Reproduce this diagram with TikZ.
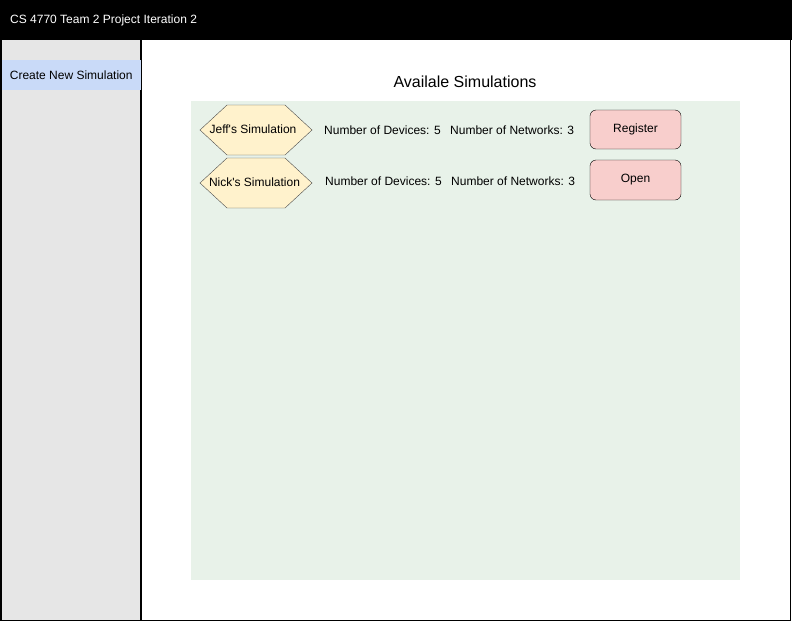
\documentclass[tikz,border=0pt]{standalone}
\usepackage{fontspec}
\setmainfont{Liberation Sans}
\usepackage{xcolor}
\usetikzlibrary{positioning}
\definecolor{sidegray}{HTML}{E6E6E6}
\definecolor{menublue}{HTML}{C9DAF8}
\definecolor{panelgreen}{HTML}{E8F2E9}
\definecolor{hexyellow}{HTML}{FFF2CC}
\definecolor{btnred}{HTML}{F8CECC}

\begin{document}
\begin{tikzpicture}[x=1pt,y=-1pt,
  every node/.style={font=\fontsize{12pt}{14pt}\selectfont},
  simhex/.style={draw=black!70, fill=hexyellow},
  infotext/.style={anchor=west, inner sep=0pt},
  button/.style={rectangle, rounded corners=6pt, draw=black, fill=btnred, minimum width=91pt, minimum height=39pt}]
\useasboundingbox (0,0) rectangle (792,624);

% title bar
\node (titlebar) [rectangle, fill=black, minimum width=792pt, minimum height=40pt, inner sep=0pt, anchor=north west] at (0,0) {};
\node (title) [anchor=west, inner sep=0pt, text=white] at (10,20) {CS 4770 Team 2 Project Iteration 2};

% side bar and frame
\fill [sidegray] (0,40) rectangle (141,620);
\draw [line width=1.5pt] (0.75,40) -- (0.75,620.25) -- (790.25,620.25) -- (790.25,40);
\draw [line width=1.5pt] (141,40) -- (141,620.25);
\node (newsim) [rectangle, fill=menublue, minimum width=139pt, minimum height=30pt, inner sep=0pt, anchor=north west] at (1.5,60) {Create New Simulation};

% list of simulations
\node (heading) [font=\fontsize{16pt}{19pt}\selectfont] at (465,82) {Availale Simulations};
\fill [panelgreen] (191,101) rectangle (740,580);

\coordinate (jeffc) at (256,130);
\coordinate (nickc) at (256,183);
\foreach \c in {jeffc,nickc}
  \draw [simhex, shift={(\c)}] (-56,0) -- (-29,-25) -- (29,-25) -- (56,0) -- (29,25) -- (-29,25) -- cycle;
\node (jeff) at (253,129) {Jeff\textquotesingle s Simulation};
\node (nick) at (254.5,182) {Nick\textquotesingle s Simulation};

\node (jeffdev) [infotext] at (324,130) {Number of Devices: 5};
\node (jeffnet) [infotext] at (450,130) {Number of Networks: 3};
\node (nickdev) [infotext] at (325,181) {Number of Devices: 5};
\node (nicknet) [infotext] at (451,181) {Number of Networks: 3};

\node (register) [button] at (635.5,129.5) {Register};
\node (open) [button, minimum height=40pt] at (635.5,180) {Open};
\end{tikzpicture}
\end{document}
